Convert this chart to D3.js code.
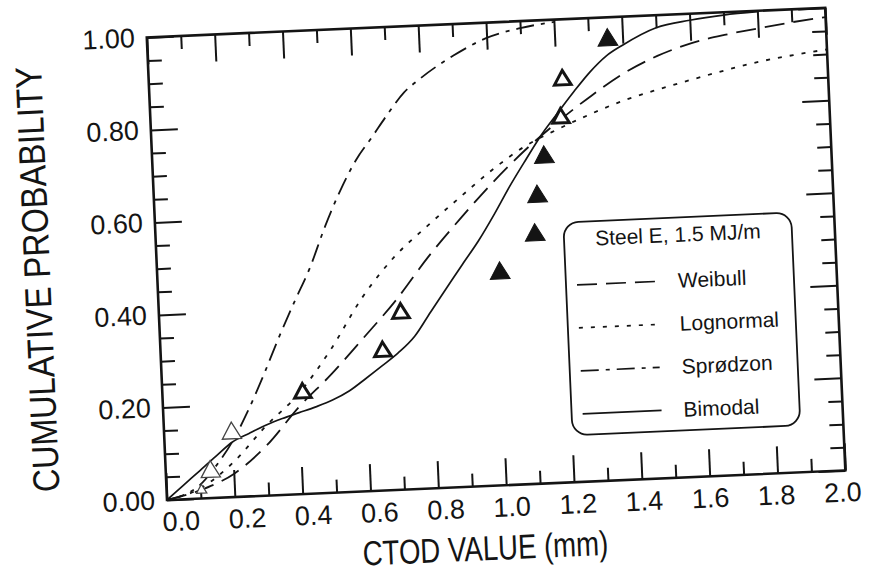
<!DOCTYPE html>
<html>
<head>
<meta charset="utf-8">
<script src="https://cdn.jsdelivr.net/npm/d3@7"></script>
<style>
body { margin: 0; background: #fff; }
text { font-family: "Liberation Sans", Arial, Helvetica, sans-serif; fill: #141414; }
</style>
</head>
<body>
<script>
// values (CTOD in mm, cumulative probability)
const gridX = [0, 0.1, 0.2, 0.3, 0.4, 0.5, 0.6, 0.7, 0.8, 0.9, 1.0, 1.1, 1.2, 1.3, 1.4, 1.5, 1.6, 1.7, 1.8, 1.9, 2.0];
const weibullY = [0, 0.018, 0.05, 0.108, 0.188, 0.256, 0.332, 0.41, 0.5, 0.58, 0.655, 0.722, 0.78, 0.832, 0.878, 0.912, 0.936, 0.951, 0.962, 0.972, 0.98];
const lognormalY = [0, 0.022, 0.075, 0.15, 0.216, 0.308, 0.418, 0.503, 0.566, 0.625, 0.682, 0.73, 0.764, 0.794, 0.82, 0.84, 0.858, 0.875, 0.89, 0.901, 0.91];

const sprodzonX = [0, 0.1, 0.15, 0.2, 0.25, 0.3, 0.35, 0.4, 0.45, 0.5, 0.55, 0.6, 0.65, 0.7, 0.75, 0.8, 0.9, 1.0, 1.1, 1.2];
const sprodzonY = [0, 0.03, 0.07, 0.12, 0.185, 0.26, 0.34, 0.415, 0.487, 0.575, 0.652, 0.716, 0.764, 0.813, 0.857, 0.886, 0.932, 0.967, 0.985, 0.995];

const bimodalX = [0, 0.05, 0.1, 0.15, 0.2, 0.25, 0.3, 0.35, 0.4, 0.45, 0.5, 0.55, 0.6, 0.65, 0.7, 0.75, 0.8, 0.85, 0.9, 0.95, 1.0, 1.05, 1.1, 1.15, 1.2, 1.25, 1.3, 1.35, 1.4, 1.5, 1.6, 1.7, 1.8];
const bimodalY = [0, 0.03, 0.06, 0.09, 0.119, 0.136, 0.152, 0.165, 0.176, 0.187, 0.2, 0.218, 0.243, 0.269, 0.296, 0.33, 0.381, 0.431, 0.481, 0.53, 0.586, 0.646, 0.701, 0.754, 0.799, 0.843, 0.884, 0.917, 0.939, 0.973, 0.986, 0.994, 0.998];

const testX = [0.103, 0.132, 0.199, 0.413, 0.654, 0.712, 1.009, 1.117, 1.129, 1.154, 1.208, 1.218, 1.356];
const testY = [0.018, 0.057, 0.138, 0.218, 0.300, 0.381, 0.458, 0.537, 0.620, 0.704, 0.787, 0.869, 0.951];
const testKind = ["tiny", "thin", "thin", "open", "open", "open", "filled", "filled", "filled", "filled", "open", "open", "filled"];

const seriesNames = ["Weibull", "Lognormal", "Sprødzon", "Bimodal"];
const seriesDash = ["20,9", "4,8", "18,7,4,7", null];
const legendTitle = "Steel E, 1.5 MJ/m";
const xTicks = [0, 0.2, 0.4, 0.6, 0.8, 1.0, 1.2, 1.4, 1.6, 1.8, 2.0];
const yTicks = [0, 0.2, 0.4, 0.6, 0.8, 1.0];

const W = 871, H = 576;
const margin = { top: 37, left: 167 },
  width = 679,
  height = 463;
const ink = "#141414";

const svg = d3.select("body").append("svg")
  .attr("width", W).attr("height", H);
svg.append("rect").attr("width", W).attr("height", H).attr("fill", "#fff");

// the scan is tilted a little, so the whole figure is turned around the origin corner
const g = svg.append("g")
  .attr("transform", "rotate(-2.5," + margin.left + "," + (margin.top + height) + ") translate(" + margin.left + "," + margin.top + ")");

const x = d3.scaleLinear().domain([0, 2]).range([0, width]);
const y = d3.scaleLinear().domain([0, 1]).range([height, 0]);

const minorX = d3.range(0, 21).map(i => i / 10).filter(v => Math.round(v * 10) % 2 === 1);
const minorY = d3.range(0, 21).map(i => i / 20).filter(v => Math.round(v * 20) % 4 !== 0);

function styleAxis(sel) {
  sel.select(".domain").remove();
  sel.selectAll(".tick line").attr("stroke", ink).attr("stroke-width", 2);
  sel.selectAll(".tick text").attr("fill", ink).style("font-size", "27px")
    .style("font-family", "'Liberation Sans', Arial, sans-serif");
}

// bottom and left with labels, top and right ticks only (all ticks point inward)
const xAxisG = g.append("g").attr("transform", "translate(0," + height + ")")
  .call(d3.axisBottom(x).tickValues(xTicks).tickSize(-27).tickPadding(12).tickFormat(d3.format(".1f")))
  .call(styleAxis);
// the printed labels sit on a slightly tighter pitch than the ticks
xAxisG.selectAll(".tick text").attr("dx", (d, i) => 13 - 1.7 * i);

g.append("g").attr("transform", "translate(0," + height + ")")
  .call(d3.axisBottom(x).tickValues(minorX).tickSize(-13).tickFormat(""))
  .call(styleAxis);
g.append("g")
  .call(d3.axisTop(x).tickValues(xTicks).tickSize(-27).tickFormat(""))
  .call(styleAxis);
g.append("g")
  .call(d3.axisTop(x).tickValues(minorX).tickSize(-13).tickFormat(""))
  .call(styleAxis);

g.append("g")
  .call(d3.axisLeft(y).tickValues(yTicks).tickSize(-27).tickPadding(12).tickFormat(d3.format(".2f")))
  .call(styleAxis);
g.append("g")
  .call(d3.axisLeft(y).tickValues(minorY).tickSize(-14).tickFormat(""))
  .call(styleAxis);
g.append("g").attr("transform", "translate(" + width + ",0)")
  .call(d3.axisRight(y).tickValues(yTicks).tickSize(-27).tickFormat(""))
  .call(styleAxis);
g.append("g").attr("transform", "translate(" + width + ",0)")
  .call(d3.axisRight(y).tickValues(minorY).tickSize(-14).tickFormat(""))
  .call(styleAxis);

// frame
g.append("rect")
  .attr("width", width).attr("height", height)
  .attr("fill", "none").attr("stroke", ink).attr("stroke-width", 2.6);

// curves
const line = d3.line()
  .x(d => x(d[0]))
  .y(d => y(d[1]))
  .curve(d3.curveMonotoneX);

const curves = [
  d3.zip(gridX, weibullY),
  d3.zip(gridX, lognormalY),
  d3.zip(sprodzonX, sprodzonY),
  d3.zip(bimodalX, bimodalY)
];

g.selectAll("path.curve")
  .data(curves)
  .enter()
  .append("path")
  .attr("class", "curve")
  .attr("d", line)
  .attr("fill", "none")
  .attr("stroke", ink)
  .attr("stroke-width", (d, i) => i === 3 ? 1.7 : 1.8)
  .attr("stroke-dasharray", (d, i) => seriesDash[i]);

// test points
const tri = d3.symbol().type(d3.symbolTriangle);
const points = testX.map((v, i) => ({ x: v, y: testY[i], kind: testKind[i] }));

g.selectAll("path.pt")
  .data(points)
  .enter()
  .append("path")
  .attr("class", "pt")
  .attr("transform", d => "translate(" + x(d.x) + "," + y(d.y) + ")")
  .attr("d", d => tri.size(d.kind === "filled" ? 170 : d.kind === "open" ? 120 : d.kind === "thin" ? 160 : 45)())
  .attr("fill", d => d.kind === "filled" ? ink : "#fff")
  .attr("stroke", d => d.kind === "thin" || d.kind === "tiny" ? "#444" : ink)
  .attr("stroke-width", d => d.kind === "open" ? 3 : d.kind === "filled" ? 1 : 1.3);

// legend box
const lg = g.append("g").attr("transform", "translate(408,203)");
lg.append("rect")
  .attr("width", 228).attr("height", 213).attr("rx", 15)
  .attr("fill", "#fff").attr("stroke", ink).attr("stroke-width", 1.8);
lg.append("text")
  .attr("x", 114).attr("y", 17).attr("dy", "0.35em")
  .attr("text-anchor", "middle")
  .style("font-size", "21px")
  .text(legendTitle);

const item = lg.selectAll("g.item")
  .data(seriesNames)
  .enter()
  .append("g")
  .attr("class", "item")
  .attr("transform", (d, i) => "translate(0," + (63 + i * 43) + ")");
item.append("line")
  .attr("x1", 11).attr("x2", 90)
  .attr("stroke", ink).attr("stroke-width", 1.7)
  .attr("stroke-dasharray", (d, i) => seriesDash[i]);
item.append("text")
  .attr("x", 112).attr("dy", "0.35em")
  .style("font-size", "21px")
  .text(d => d);

// axis titles (the scanned lettering is taller and narrower than Arial)
g.append("text")
  .attr("transform", "translate(316," + (height + 62) + ") scale(0.92,1.15)")
  .attr("dy", "0.35em")
  .attr("text-anchor", "middle")
  .style("font-size", "30px")
  .text("CTOD VALUE  (mm)");

g.append("text")
  .attr("transform", "translate(-120," + (height - 226) + ") rotate(-90) scale(1.04,1.2)")
  .attr("dy", "0.35em")
  .attr("text-anchor", "middle")
  .style("font-size", "31px")
  .text("CUMULATIVE PROBABILITY");
</script>
</body>
</html>
